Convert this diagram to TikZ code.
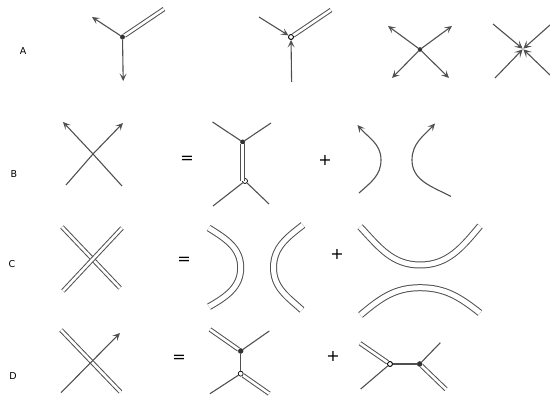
\documentclass[tikz,border=0pt]{standalone}
\usepackage{fontspec}
\setmainfont{DejaVu Sans}
\usepackage{xcolor}
\definecolor{wire}{RGB}{80,80,80}
\usetikzlibrary{arrows.meta}

\begin{document}
\begin{tikzpicture}[
  x=1pt,y=1pt,
  tag/.style={inner sep=0pt,font=\fontsize{9.5}{10}\selectfont},
  sign/.style={inner sep=0pt,font=\fontsize{16}{16}\selectfont},
  full/.style={circle,draw=black!80,fill=black!80,inner sep=0pt,minimum size=4.5pt},
  open/.style={circle,draw=black,fill=white,line width=0.9pt,inner sep=0pt,minimum size=5pt},
  wl/.style={draw=wire,line width=1.1pt},
  dbl/.style={draw=wire,line width=1pt,double=white,double distance=2.6pt},
  arr/.style={wl,-{Stealth[length=7.5pt,width=7pt,inset=3.5pt]}},
  arrin/.style={wl,shorten >=0.5pt,-{Stealth[length=8pt,width=8pt,inset=4pt]}}
]
  \useasboundingbox (0,0) rectangle (550,396);
  % row A
  \node[tag] (la) at (23,345) {A};
  \node[full] (a1) at (122.5,359) {};
  \coordinate (a1l) at (92,379); \coordinate (a1d) at (123.2,315); \coordinate (a1r) at (164,387);
  \draw[dbl] (a1)--(a1r); \draw[arr] (a1)--(a1l); \draw[arr] (a1)--(a1d);
  \node[open] (a2) at (291,359) {};
  \coordinate (a2l) at (259,379); \coordinate (a2d) at (291.6,314); \coordinate (a2r) at (331,386);
  \draw[dbl] (a2)--(a2r); \draw[arr] (a2l)--(a2); \draw[arr] (a2d)--(a2);
  \node[full,minimum size=4pt] (a3) at (420,346.5) {};
  \coordinate (a3a) at (388,370); \coordinate (a3b) at (452,370);
  \coordinate (a3c) at (392,318); \coordinate (a3d) at (449,318);
  \draw[arr] (a3)--(a3a); \draw[arr] (a3)--(a3b);
  \draw[arr] (a3)--(a3c); \draw[arr] (a3)--(a3d);
  \coordinate (a4) at (523,347);
  \coordinate (a4a) at (493,372); \coordinate (a4b) at (550,371);
  \coordinate (a4c) at (495,318); \coordinate (a4d) at (550,321);
  \draw[arrin] (a4a)--(a4); \draw[arrin] (a4b)--(a4);
  \draw[arrin] (a4c)--(a4); \draw[arrin] (a4d)--(a4);
  % row B
  \node[tag] (lb) at (14,222) {B};
  \coordinate (bx) at (93,242);
  \coordinate (bx1) at (66,211); \coordinate (bx2) at (122,210);
  \coordinate (bx3) at (63,274); \coordinate (bx4) at (123,273);
  \draw[arr] (bx2)--(bx)--(bx3); \draw[arr] (bx1)--(bx)--(bx4);
  \node[sign] (beq) at (187,236) {=};
  \node[full] (bt) at (242.7,254) {};
  \coordinate (bm) at (242.7,215);
  \node[open,line width=0.7pt] (bb) at (245,215) {};
  \coordinate (bt1) at (212.5,274); \coordinate (bt2) at (271,273);
  \coordinate (bb1) at (213,190); \coordinate (bb2) at (269,192);
  \draw[dbl] (bt)--(bm);
  \draw[wl] (bt1)--(bt)--(bt2); \draw[wl] (bb1)--(bb); \draw[wl] (bb2)--(bb);
  \node[sign] (bplus) at (325,236) {+};
  \coordinate (bl1) at (359,203); \coordinate (bl2) at (381,236); \coordinate (bl3) at (357.5,271);
  \coordinate (br1) at (451,199.5); \coordinate (br2) at (412,236); \coordinate (br3) at (435,272.5);
  \draw[arr] (bl1) to[out=42,in=-90] (bl2) to[out=90,in=-50] (bl3);
  \draw[arr] (br1) to[out=152,in=-90] (br2) to[out=90,in=-132] (br3);
  % row C
  \node[tag] (lc) at (12,132) {C};
  \coordinate (cx1) at (62,169); \coordinate (cx2) at (120,108);
  \coordinate (cx3) at (122,168); \coordinate (cx4) at (63,105);
  \draw[dbl] (cx1)--(cx2); \draw[dbl] (cx3)--(cx4);
  \node[sign] (ceq) at (184,135.5) {=};
  \coordinate (cl1) at (208.7,168); \coordinate (cl2) at (240.7,128.3); \coordinate (cl3) at (209,89.3);
  \coordinate (cr1) at (303,171); \coordinate (cr2) at (273.5,128.3); \coordinate (cr3) at (302,86);
  \draw[dbl,double distance=5pt] (cl1) to[out=-32,in=90] (cl2) to[out=-90,in=30] (cl3);
  \draw[dbl,double distance=5pt] (cr1) to[out=-142,in=90] (cr2) to[out=-90,in=138] (cr3);
  \node[sign] (cplus) at (337,141.5) {+};
  \coordinate (cu1) at (360,169.3); \coordinate (cu2) at (420,131); \coordinate (cu3) at (480,170);
  \coordinate (cd1) at (360.5,81); \coordinate (cd2) at (420,108.3); \coordinate (cd3) at (480,83);
  \draw[dbl,double distance=5pt] (cu1) to[out=-47,in=180] (cu2) to[out=0,in=-130] (cu3);
  \draw[dbl,double distance=5pt] (cd1) to[out=40,in=180] (cd2) to[out=0,in=142] (cd3);
  % row D
  \node[tag] (ld) at (13,20) {D};
  \coordinate (dx1) at (61,66); \coordinate (dx2) at (120.5,4);
  \coordinate (dx3) at (61,3.3); \coordinate (dx4) at (120,63);
  \draw[dbl] (dx1)--(dx2); \draw[arr] (dx3)--(dx4);
  \node[sign] (deq) at (179,37) {=};
  \node[full,minimum size=5pt] (dt) at (240.7,45) {};
  \node[open,line width=0.7pt] (db) at (240.7,22.3) {};
  \coordinate (dt1) at (210,66.5); \coordinate (dt2) at (269.3,65);
  \coordinate (db1) at (210,2.3); \coordinate (db2) at (269.3,2.3);
  \draw[wl] (dt)--(db);
  \draw[dbl] (dt1)--(dt); \draw[wl] (dt2)--(dt);
  \draw[wl] (db1)--(db); \draw[dbl] (db2)--(db);
  \node[sign] (dplus) at (333,40) {+};
  \node[open] (dl) at (390,32) {};
  \node[full,minimum size=5pt] (dr) at (419.7,32) {};
  \coordinate (dl1) at (360,52.7); \coordinate (dl2) at (360.7,7);
  \coordinate (dr1) at (440.3,53.3); \coordinate (dr2) at (446,6.7);
  \draw[wl] (dl)--(dr);
  \draw[dbl] (dl1)--(dl); \draw[wl] (dl2)--(dl);
  \draw[wl] (dr1)--(dr); \draw[dbl] (dr2)--(dr);
\end{tikzpicture}
\end{document}
